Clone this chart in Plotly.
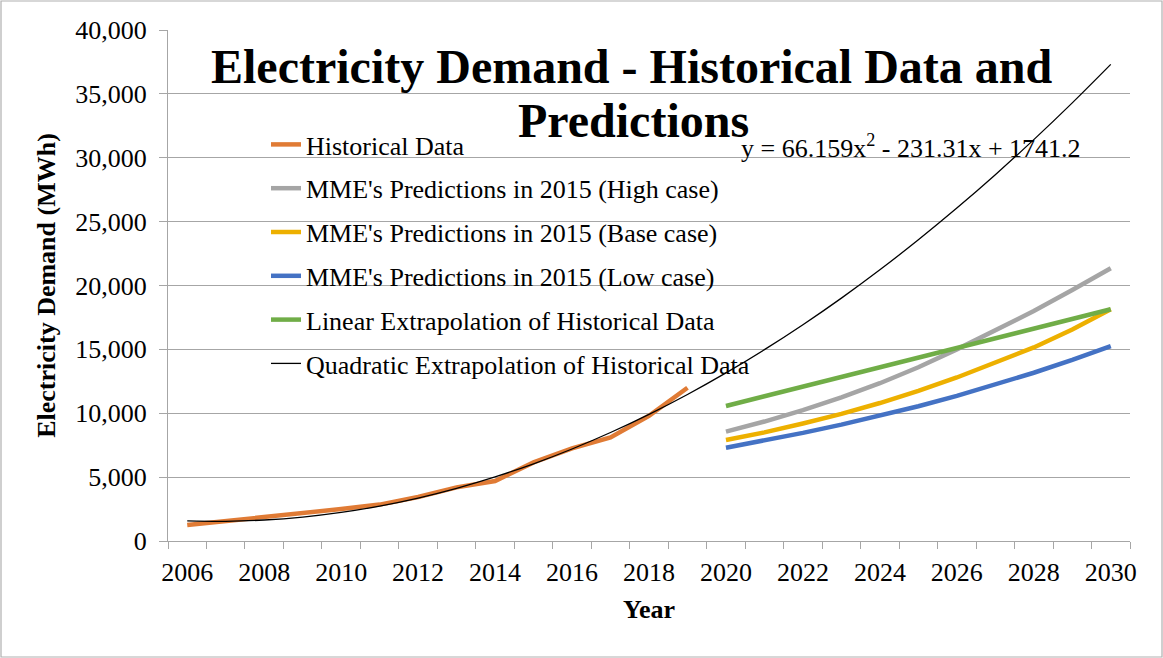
import plotly.graph_objects as go

years = list(range(2006, 2031))
hist_years = list(range(2006, 2020))
hist_values = [1250, 1550, 1880, 2150, 2500, 2850, 3450, 4200, 4700, 6150, 7250, 8100, 9800, 12000]
pred_years = list(range(2020, 2031))
high_case = [8560, 9350, 10250, 11250, 12350, 13600, 15000, 16500, 18000, 19650, 21350]
base_case = [7900, 8500, 9200, 9950, 10800, 11750, 12800, 13950, 15150, 16550, 18140]
low_case = [7300, 7860, 8460, 9110, 9800, 10550, 11360, 12230, 13170, 14170, 15250]
linear_ext = [10570, 11330, 12080, 12840, 13600, 14350, 15110, 15870, 16630, 17380, 18140]
quad_ext = [1576, 1543, 1643, 1875, 2239, 2735, 3364, 4125, 5018, 6044, 7202, 8492, 9915,
            11470, 13157, 14977, 16929, 19013, 21230, 23579, 26060, 28673, 31419, 34297, 37308]
x_tick_labels = [str(y) for y in range(2006, 2031, 2)]
equation_text = "y = 66.159x<sup>2</sup> - 231.31x + 1741.2"
title_line1 = "Electricity Demand - Historical Data and"
title_line2 = "Predictions"

FONT = "Liberation Serif"
GRID = "#a6a6a6"

fig = go.Figure()
series = [
    ("Historical Data", hist_years, hist_values, "#E07B35", 4.5),
    ("MME's Predictions in 2015 (High case)", pred_years, high_case, "#A5A5A5", 4.5),
    ("MME's Predictions in 2015 (Base case)", pred_years, base_case, "#EDB000", 4.5),
    ("MME's Predictions in 2015 (Low case)", pred_years, low_case, "#4472C4", 4.5),
    ("Linear Extrapolation of Historical Data", pred_years, linear_ext, "#70AD47", 4.5),
]
for i, (name, xs, ys, col, w) in enumerate(series):
    fig.add_trace(go.Scatter(x=xs, y=ys, mode="lines", name=name, legendgroup=f"g{i}",
                             line=dict(color=col, width=w)))
fig.add_trace(go.Scatter(x=years, y=quad_ext, mode="lines", name="Quadratic Extrapolation of Historical Data",
                         legendgroup="g5", line=dict(color="black", width=1.3, shape="spline")))

L, R, T, B = 168, 33, 30, 117
W, H = 1163, 658
pw, ph = W - L - R, H - T - B

def px(x):
    return (x - L) / pw

def py(y):
    return (H - B - y) / ph

fig.update_layout(
    width=W, height=H,
    margin=dict(l=L, r=R, t=T, b=B),
    paper_bgcolor="white", plot_bgcolor="white",
    font=dict(family=FONT, size=26, color="black"),
    showlegend=True,
    legend=dict(x=px(266), y=py(121), xanchor="left", yanchor="top",
                bgcolor="rgba(0,0,0,0)", font=dict(size=26, family=FONT),
                tracegroupgap=7, traceorder="grouped"),
    xaxis=dict(range=[2005.5, 2030.5], tickvals=list(range(2006, 2031, 2)), ticktext=x_tick_labels,
               ticks="", showgrid=False, showline=True, linecolor=GRID, linewidth=1.2,
               tickfont=dict(size=26, family=FONT), ticklabelstandoff=8,
               minor=dict(ticks="outside", tick0=2005.5, dtick=1, ticklen=7, tickcolor=GRID, tickwidth=1.2,
                          showgrid=False),
               title=dict(text="<b>Year</b>", font=dict(size=26, family=FONT), standoff=13),
               zeroline=False),
    yaxis=dict(range=[0, 40000], dtick=5000, tickformat=",", ticks="outside", ticklen=8, tickcolor=GRID,
               tickwidth=1.2, showgrid=True, gridcolor=GRID, gridwidth=1.2, showline=True, linecolor=GRID,
               linewidth=1.2, zeroline=False, tickfont=dict(size=26, family=FONT), ticklabelstandoff=7,
               title=dict(text="<b>Electricity Demand (MWh)</b>", font=dict(size=26, family=FONT), standoff=12)),
)

fig.add_annotation(text=f"<b>{title_line1}</b>", xref="paper", yref="paper", x=px(632), y=py(66),
                   xanchor="center", yanchor="middle", showarrow=False, font=dict(size=48, family=FONT))
fig.add_annotation(text=f"<b>{title_line2}</b>", xref="paper", yref="paper", x=px(633), y=py(120),
                   xanchor="center", yanchor="middle", showarrow=False, font=dict(size=48, family=FONT))
fig.add_annotation(text=equation_text, xref="paper", yref="paper", x=px(739), y=py(146),
                   xanchor="left", yanchor="middle", showarrow=False, font=dict(size=26, family=FONT))

fig.add_shape(type="rect", xref="paper", yref="paper", x0=px(1), x1=px(1162), y0=py(657), y1=py(1),
              line=dict(color="#b0b0b0", width=1.2), fillcolor="rgba(0,0,0,0)", layer="below")

fig.write_html("out.html", config={"displayModeBar": False},
               post_script="document.body.style.margin='0';document.body.style.overflow='hidden';")
